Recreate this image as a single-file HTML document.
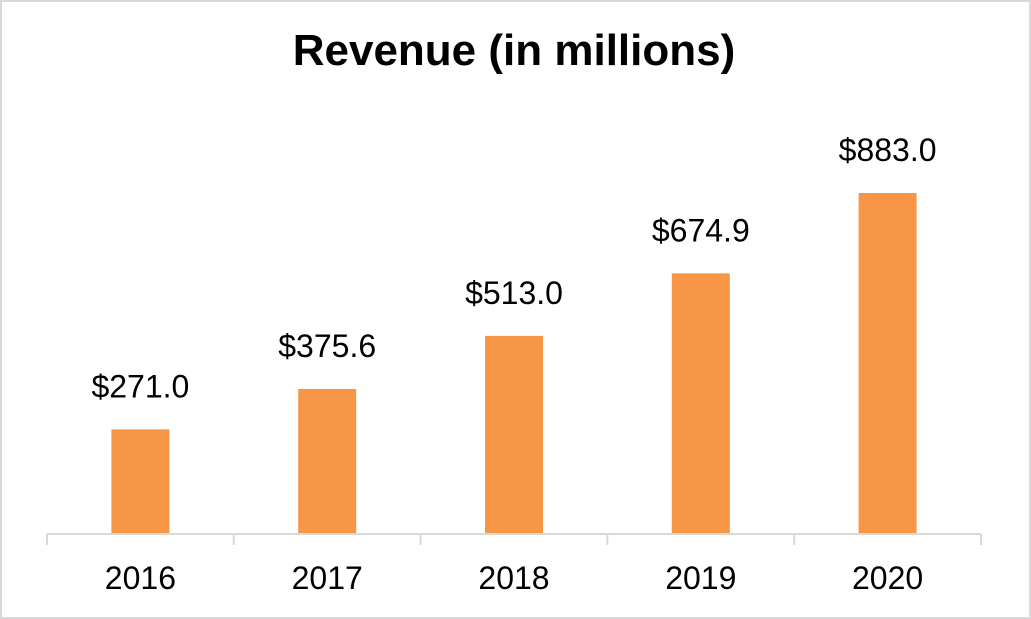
<!DOCTYPE html>
<html><head><meta charset="utf-8"><style>
body{margin:0;background:#fff}
svg{display:block;font-family:"Liberation Sans",Arial,sans-serif}
</style></head><body>
<svg id="chart" width="1031" height="619">
<rect x="1" y="1" width="1029" height="617" fill="#fff" stroke="#d9d9d9" stroke-width="2"/>
<text x="514" y="65" text-anchor="middle" font-size="44" font-weight="bold" fill="#000">Revenue (in millions)</text>
<g id="bars"></g>
</svg>
<script>
const categories=["2016","2017","2018","2019","2020"];
const values=[271.0,375.6,513.0,674.9,883.0];
const valueLabels=["$271.0","$375.6","$513.0","$674.9","$883.0"];
const ns="http://www.w3.org/2000/svg";
const svg=document.getElementById('chart');
const x0=47,x1=981,base=534,scale=341/883;
const band=(x1-x0)/categories.length;
const bw=58;
function xc(i){return x0+band*(i+0.5);}
function y(v){return base-v*scale;}
function mk(t,a){const e=document.createElementNS(ns,t);for(const k in a)e.setAttribute(k,a[k]);svg.appendChild(e);return e;}
categories.forEach((c,i)=>{
  const r=mk('rect',{x:xc(i)-bw/2,y:y(values[i]),width:bw,height:base-y(values[i]),fill:'#f79646'});
  
  
  const t=mk('text',{x:xc(i),y:y(values[i])-32,'text-anchor':'middle','font-size':32,fill:'#000'});
  t.textContent=valueLabels[i];
  
  
  const l=mk('text',{x:xc(i),y:589,'text-anchor':'middle','font-size':32,fill:'#000'});
  l.textContent=c;
  
  
});
const ax=mk('line',{x1:x0,x2:x1,y1:base,y2:base,stroke:'#d9d9d9','stroke-width':2});


for(let i=0;i<=categories.length;i++){
  const tk=mk('line',{x1:x0+band*i,x2:x0+band*i,y1:base,y2:base+11,stroke:'#d9d9d9','stroke-width':2});
  
  
}
</script>
</body></html>
